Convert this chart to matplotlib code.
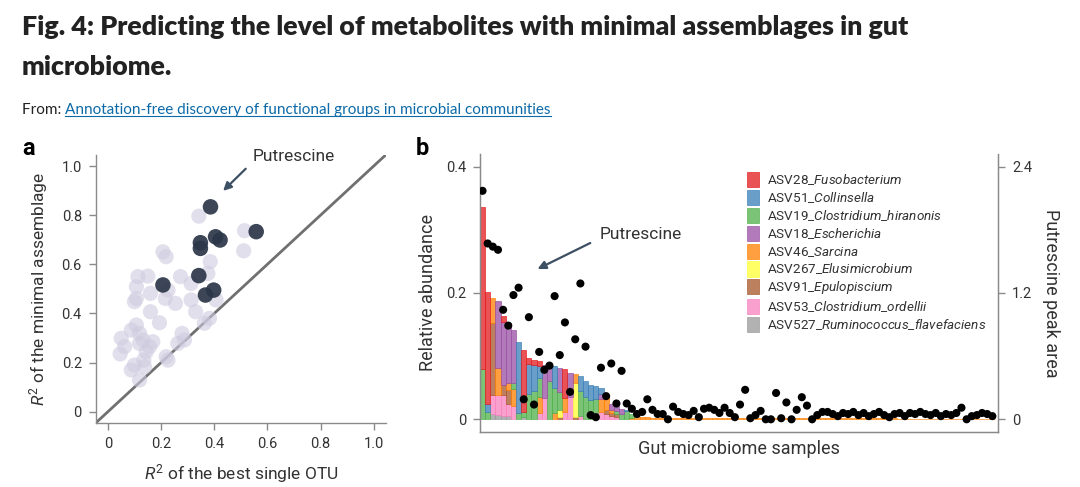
import numpy as np
import matplotlib
matplotlib.use("Agg")
import matplotlib.pyplot as plt
from matplotlib.patches import Patch
from matplotlib.lines import Line2D

plt.rcParams['font.family'] = ['Roboto', 'DejaVu Sans']
plt.rcParams['mathtext.fontset'] = 'custom'
plt.rcParams['mathtext.rm'] = 'Roboto'
plt.rcParams['mathtext.it'] = 'Roboto:italic'

# ---- panel a: R2 of best single OTU vs R2 of minimal assemblage ----
light_x = [0.342, 0.514, 0.511, 0.207, 0.219, 0.385, 0.150, 0.113, 0.273, 0.313,
           0.107, 0.226, 0.160, 0.107, 0.100, 0.216, 0.254, 0.313, 0.407, 0.160,
           0.330, 0.194, 0.382, 0.363, 0.107, 0.088, 0.119, 0.279, 0.050, 0.132,
           0.169, 0.119, 0.263, 0.063, 0.157, 0.046, 0.144, 0.219, 0.226, 0.088,
           0.100, 0.138, 0.119, 0.135, 0.288, 0.376]
light_y = [0.796, 0.737, 0.655, 0.651, 0.631, 0.611, 0.552, 0.550, 0.550, 0.522,
           0.509, 0.495, 0.482, 0.461, 0.448, 0.461, 0.441, 0.455, 0.455, 0.407,
           0.407, 0.362, 0.380, 0.360, 0.353, 0.332, 0.319, 0.319, 0.299, 0.292,
           0.285, 0.278, 0.278, 0.265, 0.265, 0.235, 0.244, 0.224, 0.210, 0.170,
           0.190, 0.183, 0.129, 0.210, 0.292, 0.563]
dark_x = [0.386, 0.558, 0.405, 0.422, 0.348, 0.348, 0.342, 0.207, 0.398, 0.367]
dark_y = [0.834, 0.733, 0.712, 0.699, 0.688, 0.665, 0.554, 0.516, 0.495, 0.475]

# ---- panel b: stacked relative abundance (first 31 samples) ----
species = ["ASV28_$\\mathit{Fusobacterium}$",
           "ASV51_$\\mathit{Collinsella}$",
           "ASV19_$\\mathit{Clostridium\\_hiranonis}$",
           "ASV18_$\\mathit{Escherichia}$",
           "ASV46_$\\mathit{Sarcina}$",
           "ASV267_$\\mathit{Elusimicrobium}$",
           "ASV91_$\\mathit{Epulopiscium}$",
           "ASV53_$\\mathit{Clostridium\\_ordellii}$",
           "ASV527_$\\mathit{Ruminococcus\\_flavefaciens}$"]
colors = ["#e41a1c", "#377eb8", "#4daf4a", "#984ea3", "#ff7f00",
          "#ffff33", "#a65628", "#f781bf", "#999999"]

red = [.256, .176, 0, 0, .010, 0, 0, 0, .097, .010, .008, .007, 0, 0, 0, 0,
       .045, 0, 0, 0, 0, 0, 0, 0, 0, 0, 0, 0, 0, 0, 0]
blue = [0, .013, 0, 0, 0, 0, 0, .113, 0, .047, .041, .020, 0, 0, .034, 0,
        0, 0, 0, .023, .025, .024, .020, .010, 0, 0, 0, 0, .002, 0, 0]
green = [.080, .012, 0, 0, 0, 0, .009, .010, .008, .040, .045, .030, 0, .060, .040, .030,
         0, 0, 0, .040, .035, .030, .022, 0, 0, 0, .004, .008, .013, .006, 0]
purple = [0, 0, 0, .106, .100, .095, .085, 0, 0, 0, 0, 0, .053, .025, 0, .037,
          0, .038, 0, 0, 0, 0, 0, .008, 0, .010, .008, .009, 0, 0, 0]
orange = [0, 0, .039, .042, 0, .012, .027, 0, 0, 0, 0, .025, 0, 0, .010, 0,
          .022, 0, .014, 0, 0, 0, 0, .020, .025, .004, 0, 0, 0, .002, .004]
yellow = [0, 0, 0, 0, 0, 0, 0, 0, 0, 0, 0, 0, 0, 0, 0, .010,
          0, 0, .055, 0, 0, 0, 0, 0, 0, 0, 0, 0, 0, 0, 0]
brown = [0, 0, .115, 0, .016, .022, 0, 0, 0, 0, 0, 0, 0, 0, 0, .004,
         0, 0, .003, 0, 0, 0, 0, 0, .006, .004, .005, 0, 0, 0, 0]
pink = [0, 0, .029, .032, .032, .018, .021, 0, 0, 0, 0, .010, .033, 0, 0, 0,
        .012, .035, 0, .005, 0, 0, .010, .012, .008, .006, .004, 0, 0, 0, 0]
gray = [0, 0, .009, .007, .006, .006, 0, 0, .004, 0, 0, 0, 0, 0, 0, 0,
        0, 0, 0, 0, 0, 0, 0, 0, 0, 0, 0, 0, 0, 0, 0]
# remaining samples: only a thin Sarcina layer
orange_tail = [.003, .003, .0025, .0025, .002, .002, .002, .002, .002, .002,
               .002, .0018, .0018, .0018, .0018, .0016, .0016, .0016, .0016, .0016,
               .0015, .0015, .0015, .0015, .0015, .0015, .0015, .0015, .0015, .0015,
               .0014, .0014, .0014, .0014, .0014, .0014, .0014, .0014, .0014, .0014,
               .0013, .0013, .0013, .0013, .0013, .0013, .0013, .0013, .0013, .0013,
               .0012, .0012, .0012, .0012, .0012, .0012, .0012, .0012, .0012, .0012,
               .0012, .0012, .0012, .0012, .0012, .0012, .0012, .0012, .0012]

putrescine = [2.17, 1.67, 1.64, 1.61, 1.04, 0.89, 1.18, 1.25, 0.19, 0.97,
              0.14, 0.64, 0.47, 0.51, 1.17, 0.61, 0.92, 0.26, 0.76, 1.29,
              0.69, 0.04, 0.02, 0.49, 0.22, 0.53, 0.15, 0.46, 0.15, 0.10,
              0.05, 0.07, 0.19, 0.09, 0.05, 0.05, 0.00, 0.12, 0.07, 0.05,
              0.04, 0.08, 0.02, 0.10, 0.11, 0.09, 0.06, 0.11, 0.06, 0.02,
              0.14, 0.28, 0.01, 0.04, 0.08, 0.00, 0.00, 0.25, 0.01, 0.16,
              0.00, 0.09, 0.21, 0.13, 0.00, 0.04, 0.07, 0.07,
              0.05, 0.03, 0.06, 0.05, 0.07, 0.04, 0.06, 0.03, 0.05, 0.07,
              0.04, 0.02, 0.05, 0.06, 0.03, 0.06, 0.05, 0.07, 0.05, 0.04,
              0.06, 0.03, 0.05, 0.04, 0.06, 0.11, 0.00, 0.03, 0.04, 0.06,
              0.05, 0.03]

text_col = "#333333"
spine_col = "#8a8a8a"
head_font = ['Lato', 'DejaVu Sans']

fig = plt.figure(figsize=(10.8, 4.87), dpi=100)

# header
fig.text(22 / 1080, 1 - 27 / 487, "Fig. 4: Predicting the level of metabolites with minimal assemblages in gut",
         family=head_font, weight='heavy', fontsize=19.3,
         color="#222222", va='center', ha='left')
fig.text(22 / 1080, 1 - 67 / 487, "microbiome.",
         family=head_font, weight='heavy', fontsize=19.3,
         color="#222222", va='center', ha='left')
t_from = fig.text(22 / 1080, 1 - 110 / 487, "From: ", family=head_font,
                  fontsize=11, color="#222222", va='center', ha='left')
fig.canvas.draw()
bb = t_from.get_window_extent()
t_link = fig.text(bb.x1 / 1080, 1 - 110 / 487,
                  "Annotation-free discovery of functional groups in microbial communities",
                  family=head_font, fontsize=11,
                  color="#0c6aa8", va='center', ha='left')
fig.canvas.draw()
lb = t_link.get_window_extent()
fig.add_artist(Line2D([lb.x0 / 1080, lb.x1 / 1080], [(lb.y0 + 1) / 487, (lb.y0 + 1) / 487],
                      color="#0c6aa8", lw=0.8, transform=fig.transFigure))

fig.text(22 / 1080, 1 - 148 / 487, "a", fontsize=17, weight='bold', va='center', ha='left')
fig.text(416 / 1080, 1 - 148 / 487, "b", fontsize=17, weight='bold', va='center', ha='left')

# ---------------- panel a ----------------
ax1 = fig.add_axes([0.0886, 0.1314, 0.2692, 0.5503])
ax1.plot([-0.05, 1.05], [-0.05, 1.05], color="#707070", lw=2, zorder=1)
ax1.scatter(light_x, light_y, s=120, color="#cfcbe0", alpha=0.6, edgecolors='none', zorder=2)
ax1.scatter(dark_x, dark_y, s=125, color="#2b3648", alpha=0.92, edgecolors='none', zorder=3)
ax1.set_xlim(-0.046, 1.048)
ax1.set_ylim(-0.046, 1.045)
ticks = [0, 0.2, 0.4, 0.6, 0.8, 1.0]
tlabels = ["0", "0.2", "0.4", "0.6", "0.8", "1.0"]
ax1.set_xticks(ticks)
ax1.set_xticklabels(tlabels)
ax1.set_yticks(ticks)
ax1.set_yticklabels(tlabels)
for s in ['top', 'right']:
    ax1.spines[s].set_visible(False)
for s in ['left', 'bottom']:
    ax1.spines[s].set_color(spine_col)
    ax1.spines[s].set_linewidth(1)
ax1.tick_params(colors=spine_col, labelcolor=text_col, labelsize=10.5, length=5, width=1, pad=5)
ax1.set_xlabel("$R^2$ of the best single OTU", fontsize=12.5, color=text_col, labelpad=8)
ax1.set_ylabel("$R^2$ of the minimal assemblage", fontsize=12.5, color=text_col, labelpad=8)
ax1.annotate("", xy=(0.426, 0.891), xytext=(0.526, 0.997),
             arrowprops=dict(arrowstyle='-|>', color="#3d4f63", lw=1.6, mutation_scale=12))
ax1.text(0.545, 1.04, "Putrescine", fontsize=12.5, color=text_col, ha='left', va='center')

# ---------------- panel b ----------------
ax2 = fig.add_axes([0.4444, 0.1136, 0.4797, 0.5702])
n = len(putrescine)
x = np.arange(n)
orange_full = orange + orange_tail
stack = [(gray, 8), (pink, 7), (brown, 6), (yellow, 5), (orange_full, 4),
         (green, 2), (purple, 3), (blue, 1), (red, 0)]
bottom = np.zeros(n)
for vals, k in stack:
    v = np.zeros(n)
    v[:len(vals)] = vals
    m = v > 0
    ax2.bar(x[m], v[m], width=1.0, bottom=bottom[m], color=colors[k], alpha=0.75,
            edgecolor=colors[k], linewidth=0.6, zorder=2)
    bottom += v

ax2.set_xlim(-0.5, 100.1)
ax2.set_ylim(-0.0196, 0.42)
ax2.set_xticks([])
ax2.set_yticks([0, 0.2, 0.4])
ax2.set_yticklabels(["0", "0.2", "0.4"])
ax2.spines['top'].set_visible(False)
for s in ['left', 'bottom', 'right']:
    ax2.spines[s].set_color(spine_col)
    ax2.spines[s].set_linewidth(1)
ax2.tick_params(colors=spine_col, labelcolor=text_col, labelsize=10.5, length=5, width=1, pad=5)
ax2.set_xlabel("Gut microbiome samples", fontsize=13, color=text_col, labelpad=6)
ax2.set_ylabel("Relative abundance", fontsize=13, color=text_col, labelpad=6)

ax3 = ax2.twinx()
ax3.scatter(x, putrescine, s=34, color='black', zorder=5, edgecolors='none')
ax3.set_ylim(-0.0196 * 6, 0.42 * 6)
ax3.set_yticks([0, 1.2, 2.4])
ax3.set_yticklabels(["0", "1.2", "2.4"])
ax3.spines['top'].set_visible(False)
for s in ['left', 'bottom', 'right']:
    ax3.spines[s].set_color(spine_col)
ax3.tick_params(colors=spine_col, labelcolor=text_col, labelsize=10.5, length=5, width=1, pad=5)
ax3.set_ylabel("Putrescine peak area", fontsize=13, color=text_col, rotation=270, labelpad=20)

ax3.annotate("", xy=(10.2, 0.236 * 6), xytext=(21.4, 0.281 * 6),
             arrowprops=dict(arrowstyle='-|>', color="#3d4f63", lw=1.6, mutation_scale=12))
ax3.text(22.8, 0.292 * 6, "Putrescine", fontsize=12.5, color=text_col, ha='left', va='center')

handles = [Patch(facecolor=c, edgecolor=c, alpha=0.75, linewidth=0.6) for c in colors]
fig.legend(handles, species, loc='upper left', bbox_to_anchor=(0.685, 0.660),
           bbox_transform=fig.transFigure, frameon=False, fontsize=9.7,
           handlelength=0.95, handleheight=1.35, labelspacing=0.2, handletextpad=0.6,
           borderpad=0, labelcolor=text_col)

fig.savefig("out.png", dpi=100)
